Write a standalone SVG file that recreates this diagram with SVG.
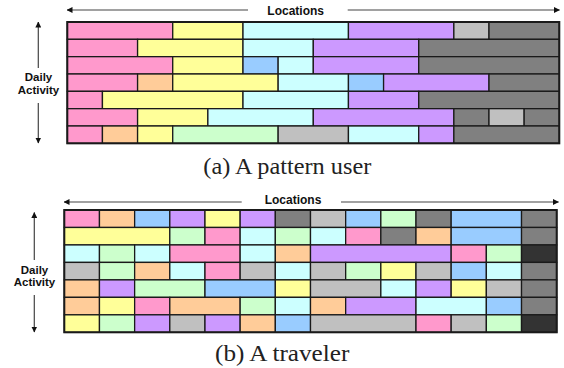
<svg xmlns="http://www.w3.org/2000/svg" width="564" height="368" viewBox="0 0 564 368">
<style>
rect{stroke:#1a1a1a;stroke-width:1.3}
.pk{fill:#FF99CC}.ye{fill:#FFFF99}.cy{fill:#CCFFFF}.pu{fill:#CC99FF}.lg{fill:#C0C0C0}.dg{fill:#808080}.bl{fill:#99CCFF}.or{fill:#FFCC99}.gr{fill:#CCFFCC}.vd{fill:#333333}
.frame{fill:none;stroke:#1a1a1a;stroke-width:2}
.arr{stroke:#444;stroke-width:1.2;fill:none;marker-end:url(#ah)}
.lab{font-family:"Liberation Sans",Arial,sans-serif;font-weight:bold;font-size:12px;fill:#111;text-anchor:middle}
.axl{font-family:"Liberation Sans",Arial,sans-serif;font-weight:bold;font-size:11.5px;fill:#111;text-anchor:middle}
.cap{font-family:"Liberation Serif","Times New Roman",serif;font-size:22.5px;fill:#222}
</style>
<defs>
<marker id="ah" markerUnits="userSpaceOnUse" markerWidth="6" markerHeight="6" refX="5.5" refY="3" orient="auto">
<path d="M0,0 L6,3 L0,6 z" fill="#111"/>
</marker>
</defs>

<g id="panel-a">
<g id="a-row1">
<rect class="pk" x="67.3" y="22" width="105.43" height="17.33"/>
<rect class="ye" x="172.73" y="22" width="70.29" height="17.33"/>
<rect class="cy" x="243.01" y="22" width="105.43" height="17.33"/>
<rect class="pu" x="348.44" y="22" width="105.43" height="17.33"/>
<rect class="lg" x="453.87" y="22" width="35.14" height="17.33"/>
<rect class="dg" x="489.01" y="22" width="70.29" height="17.33"/>
</g>
<g id="a-row2">
<rect class="pk" x="67.3" y="39.33" width="70.29" height="17.33"/>
<rect class="ye" x="137.59" y="39.33" width="105.43" height="17.33"/>
<rect class="cy" x="243.01" y="39.33" width="70.29" height="17.33"/>
<rect class="pu" x="313.3" y="39.33" width="105.43" height="17.33"/>
<rect class="dg" x="418.73" y="39.33" width="140.57" height="17.33"/>
</g>
<g id="a-row3">
<rect class="pk" x="67.3" y="56.67" width="105.43" height="17.33"/>
<rect class="ye" x="172.73" y="56.67" width="70.29" height="17.33"/>
<rect class="bl" x="243.01" y="56.67" width="35.14" height="17.33"/>
<rect class="cy" x="278.16" y="56.67" width="35.14" height="17.33"/>
<rect class="pu" x="313.3" y="56.67" width="105.43" height="17.33"/>
<rect class="dg" x="418.73" y="56.67" width="140.57" height="17.33"/>
</g>
<g id="a-row4">
<rect class="pk" x="67.3" y="74" width="70.29" height="17.33"/>
<rect class="or" x="137.59" y="74" width="35.14" height="17.33"/>
<rect class="ye" x="172.73" y="74" width="105.43" height="17.33"/>
<rect class="cy" x="278.16" y="74" width="70.29" height="17.33"/>
<rect class="bl" x="348.44" y="74" width="35.14" height="17.33"/>
<rect class="pu" x="383.59" y="74" width="105.43" height="17.33"/>
<rect class="dg" x="489.01" y="74" width="70.29" height="17.33"/>
</g>
<g id="a-row5">
<rect class="pk" x="67.3" y="91.33" width="35.14" height="17.33"/>
<rect class="ye" x="102.44" y="91.33" width="140.57" height="17.33"/>
<rect class="cy" x="243.01" y="91.33" width="105.43" height="17.33"/>
<rect class="pu" x="348.44" y="91.33" width="70.29" height="17.33"/>
<rect class="dg" x="418.73" y="91.33" width="140.57" height="17.33"/>
</g>
<g id="a-row6">
<rect class="pk" x="67.3" y="108.67" width="70.29" height="17.33"/>
<rect class="ye" x="137.59" y="108.67" width="70.29" height="17.33"/>
<rect class="cy" x="207.87" y="108.67" width="105.43" height="17.33"/>
<rect class="pu" x="313.3" y="108.67" width="140.57" height="17.33"/>
<rect class="dg" x="453.87" y="108.67" width="35.14" height="17.33"/>
<rect class="lg" x="489.01" y="108.67" width="35.14" height="17.33"/>
<rect class="dg" x="524.16" y="108.67" width="35.14" height="17.33"/>
</g>
<g id="a-row7">
<rect class="pk" x="67.3" y="126" width="35.14" height="17.33"/>
<rect class="or" x="102.44" y="126" width="35.14" height="17.33"/>
<rect class="ye" x="137.59" y="126" width="35.14" height="17.33"/>
<rect class="gr" x="172.73" y="126" width="105.43" height="17.33"/>
<rect class="lg" x="278.16" y="126" width="70.29" height="17.33"/>
<rect class="cy" x="348.44" y="126" width="70.29" height="17.33"/>
<rect class="pu" x="418.73" y="126" width="35.14" height="17.33"/>
<rect class="dg" x="453.87" y="126" width="105.43" height="17.33"/>
</g>
<rect class="frame" x="67.3" y="22" width="492" height="121.33"/>
<text class="lab" x="295.7" y="14.7">Locations</text>
<text class="axl" x="38.5" y="81">Daily</text>
<text class="axl" x="38.5" y="93.5">Activity</text>
<text class="cap" x="203.3" y="174.3" textLength="168" lengthAdjust="spacingAndGlyphs">(a) A pattern user</text>
</g>

<g id="panel-b">
<g id="b-row1">
<rect class="pk" x="64.3" y="210" width="35.17" height="17.47"/>
<rect class="or" x="99.47" y="210" width="35.17" height="17.47"/>
<rect class="bl" x="134.64" y="210" width="35.17" height="17.47"/>
<rect class="pu" x="169.81" y="210" width="35.17" height="17.47"/>
<rect class="ye" x="204.99" y="210" width="35.17" height="17.47"/>
<rect class="pu" x="240.16" y="210" width="35.17" height="17.47"/>
<rect class="dg" x="275.33" y="210" width="35.17" height="17.47"/>
<rect class="lg" x="310.5" y="210" width="35.17" height="17.47"/>
<rect class="bl" x="345.67" y="210" width="35.17" height="17.47"/>
<rect class="gr" x="380.84" y="210" width="35.17" height="17.47"/>
<rect class="dg" x="416.01" y="210" width="35.17" height="17.47"/>
<rect class="bl" x="451.18" y="210" width="70.35" height="17.47"/>
<rect class="dg" x="521.53" y="210" width="35.17" height="17.47"/>
</g>
<g id="b-row2">
<rect class="ye" x="64.3" y="227.47" width="105.51" height="17.47"/>
<rect class="gr" x="169.81" y="227.47" width="35.17" height="17.47"/>
<rect class="pk" x="204.99" y="227.47" width="35.17" height="17.47"/>
<rect class="cy" x="240.16" y="227.47" width="35.17" height="17.47"/>
<rect class="gr" x="275.33" y="227.47" width="35.17" height="17.47"/>
<rect class="cy" x="310.5" y="227.47" width="35.17" height="17.47"/>
<rect class="pk" x="345.67" y="227.47" width="35.17" height="17.47"/>
<rect class="dg" x="380.84" y="227.47" width="35.17" height="17.47"/>
<rect class="or" x="416.01" y="227.47" width="35.17" height="17.47"/>
<rect class="bl" x="451.18" y="227.47" width="70.35" height="17.47"/>
<rect class="dg" x="521.53" y="227.47" width="35.17" height="17.47"/>
</g>
<g id="b-row3">
<rect class="cy" x="64.3" y="244.94" width="35.17" height="17.47"/>
<rect class="gr" x="99.47" y="244.94" width="35.17" height="17.47"/>
<rect class="cy" x="134.64" y="244.94" width="35.17" height="17.47"/>
<rect class="pk" x="169.81" y="244.94" width="70.35" height="17.47"/>
<rect class="cy" x="240.16" y="244.94" width="35.17" height="17.47"/>
<rect class="or" x="275.33" y="244.94" width="35.17" height="17.47"/>
<rect class="pu" x="310.5" y="244.94" width="140.68" height="17.47"/>
<rect class="pk" x="451.18" y="244.94" width="35.17" height="17.47"/>
<rect class="gr" x="486.36" y="244.94" width="35.17" height="17.47"/>
<rect class="vd" x="521.53" y="244.94" width="35.17" height="17.47"/>
</g>
<g id="b-row4">
<rect class="lg" x="64.3" y="262.41" width="35.17" height="17.47"/>
<rect class="gr" x="99.47" y="262.41" width="35.17" height="17.47"/>
<rect class="or" x="134.64" y="262.41" width="35.17" height="17.47"/>
<rect class="cy" x="169.81" y="262.41" width="35.17" height="17.47"/>
<rect class="pk" x="204.99" y="262.41" width="35.17" height="17.47"/>
<rect class="lg" x="240.16" y="262.41" width="35.17" height="17.47"/>
<rect class="cy" x="275.33" y="262.41" width="35.17" height="17.47"/>
<rect class="lg" x="310.5" y="262.41" width="35.17" height="17.47"/>
<rect class="gr" x="345.67" y="262.41" width="35.17" height="17.47"/>
<rect class="ye" x="380.84" y="262.41" width="35.17" height="17.47"/>
<rect class="lg" x="416.01" y="262.41" width="35.17" height="17.47"/>
<rect class="bl" x="451.18" y="262.41" width="35.17" height="17.47"/>
<rect class="cy" x="486.36" y="262.41" width="35.17" height="17.47"/>
<rect class="dg" x="521.53" y="262.41" width="35.17" height="17.47"/>
</g>
<g id="b-row5">
<rect class="or" x="64.3" y="279.89" width="35.17" height="17.47"/>
<rect class="pu" x="99.47" y="279.89" width="35.17" height="17.47"/>
<rect class="gr" x="134.64" y="279.89" width="70.35" height="17.47"/>
<rect class="bl" x="204.99" y="279.89" width="70.35" height="17.47"/>
<rect class="ye" x="275.33" y="279.89" width="35.17" height="17.47"/>
<rect class="lg" x="310.5" y="279.89" width="70.35" height="17.47"/>
<rect class="cy" x="380.84" y="279.89" width="35.17" height="17.47"/>
<rect class="pu" x="416.01" y="279.89" width="35.17" height="17.47"/>
<rect class="ye" x="451.18" y="279.89" width="35.17" height="17.47"/>
<rect class="lg" x="486.36" y="279.89" width="35.17" height="17.47"/>
<rect class="dg" x="521.53" y="279.89" width="35.17" height="17.47"/>
</g>
<g id="b-row6">
<rect class="or" x="64.3" y="297.36" width="35.17" height="17.47"/>
<rect class="ye" x="99.47" y="297.36" width="35.17" height="17.47"/>
<rect class="pk" x="134.64" y="297.36" width="35.17" height="17.47"/>
<rect class="or" x="169.81" y="297.36" width="70.35" height="17.47"/>
<rect class="gr" x="240.16" y="297.36" width="35.17" height="17.47"/>
<rect class="cy" x="275.33" y="297.36" width="35.17" height="17.47"/>
<rect class="or" x="310.5" y="297.36" width="35.17" height="17.47"/>
<rect class="pu" x="345.67" y="297.36" width="70.35" height="17.47"/>
<rect class="cy" x="416.01" y="297.36" width="70.35" height="17.47"/>
<rect class="bl" x="486.36" y="297.36" width="35.17" height="17.47"/>
<rect class="dg" x="521.53" y="297.36" width="35.17" height="17.47"/>
</g>
<g id="b-row7">
<rect class="ye" x="64.3" y="314.83" width="35.17" height="17.47"/>
<rect class="gr" x="99.47" y="314.83" width="35.17" height="17.47"/>
<rect class="pu" x="134.64" y="314.83" width="35.17" height="17.47"/>
<rect class="lg" x="169.81" y="314.83" width="35.17" height="17.47"/>
<rect class="pu" x="204.99" y="314.83" width="35.17" height="17.47"/>
<rect class="or" x="240.16" y="314.83" width="35.17" height="17.47"/>
<rect class="bl" x="275.33" y="314.83" width="35.17" height="17.47"/>
<rect class="lg" x="310.5" y="314.83" width="105.51" height="17.47"/>
<rect class="pk" x="416.01" y="314.83" width="35.17" height="17.47"/>
<rect class="lg" x="451.18" y="314.83" width="35.17" height="17.47"/>
<rect class="gr" x="486.36" y="314.83" width="35.17" height="17.47"/>
<rect class="vd" x="521.53" y="314.83" width="35.17" height="17.47"/>
</g>
<rect class="frame" x="64.3" y="210" width="492.4" height="122.3"/>
<text class="lab" x="293" y="203.5">Locations</text>
<text class="axl" x="34.5" y="273.5">Daily</text>
<text class="axl" x="34.5" y="285.5">Activity</text>
<text class="cap" x="215" y="361.3" textLength="134.3" lengthAdjust="spacingAndGlyphs">(b) A traveler</text>
</g>

<g id="connectors">
<line class="arr" x1="248" y1="10" x2="67" y2="10"/>
<line class="arr" x1="347.7" y1="10" x2="559.5" y2="10"/>
<line class="arr" x1="38.3" y1="68" x2="38.3" y2="22"/>
<line class="arr" x1="38.3" y1="103" x2="38.3" y2="143"/>
<line class="arr" x1="241.7" y1="202" x2="64" y2="202"/>
<line class="arr" x1="341" y1="202" x2="558.5" y2="202"/>
<line class="arr" x1="34.3" y1="260" x2="34.3" y2="212.5"/>
<line class="arr" x1="34.3" y1="295" x2="34.3" y2="332"/>
</g>
</svg>
